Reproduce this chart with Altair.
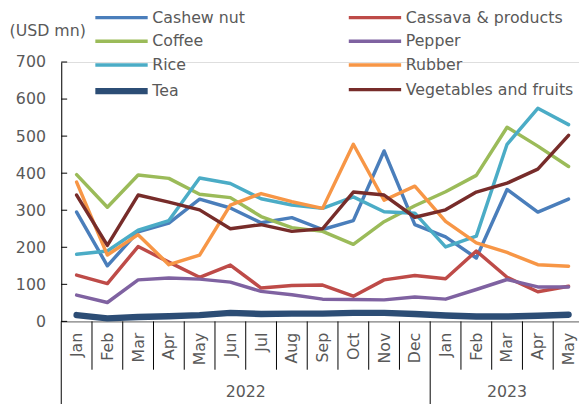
import json
import altair as alt
import pandas as pd

months = ["Jan", "Feb", "Mar", "Apr", "May", "Jun", "Jul", "Aug", "Sep", "Oct", "Nov", "Dec",
          "Jan", "Feb", "Mar", "Apr", "May"]
years = ["2022", "2023"]
year_centers = [5.5, 14.0]

products = ["Cashew nut", "Cassava & products", "Coffee", "Pepper", "Rice", "Rubber", "Tea",
            "Vegetables and fruits"]
colors = ["#4a7ebb", "#be4b48", "#9bbb59", "#7f62a1", "#4bacc6", "#f79646", "#2c4d75", "#772c2a"]
widths = [3.5, 3.5, 3.5, 3.5, 3.5, 3.5, 6.5, 3.5]

cashew = [295, 150, 242, 265, 330, 306, 266, 280, 248, 272, 460, 261, 228, 171, 356, 295, 330]
cassava = [125, 102, 202, 160, 119, 152, 90, 97, 98, 68, 112, 124, 115, 190, 119, 80, 95]
coffee = [396, 308, 395, 386, 343, 334, 283, 253, 243, 208, 269, 312, 350, 394, 524, 473, 418]
pepper = [71, 51, 112, 117, 114, 106, 81, 72, 60, 59, 58, 66, 60, 86, 113, 93, 93]
rice = [181, 190, 246, 272, 387, 372, 331, 314, 305, 336, 296, 292, 201, 230, 478, 575, 531]
rubber = [376, 179, 234, 153, 179, 314, 345, 323, 305, 478, 327, 365, 270, 212, 186, 153, 149]
tea = [17, 8, 12, 14, 17, 23, 20, 21, 21, 23, 23, 20, 16, 13, 13, 15, 18]
veg = [341, 205, 341, 322, 301, 250, 261, 243, 250, 349, 341, 281, 301, 349, 373, 411, 502]
series = [cashew, cassava, coffee, pepper, rice, rubber, tea, veg]

y_ticks = [0, 100, 200, 300, 400, 500, 600, 700]

rows = []
for p, vals in zip(products, series):
    for i, v in enumerate(vals):
        rows.append({"product": p, "idx": i, "value": v})
df = pd.DataFrame(rows)

W = 525
H = 263
FONT = "DejaVu Sans"
GRAY = "#595959"

xscale = alt.Scale(domain=[-0.5, 16.5], range=[0, 530], nice=False, zero=False)
yscale = alt.Scale(domain=[0, 700], nice=False, zero=True)

X = alt.X("idx:Q", scale=xscale,
          axis=alt.Axis(values=list(range(len(months))), tickCount=len(months),
                        labelExpr=json.dumps(months) + "[datum.value]",
                        ticks=False, labelAngle=-90, labelAlign="right", labelBaseline="middle",
                        labelPadding=11, labelFlush=False, labelOverlap=False, labelBound=False,
                        domainColor="#868686", domainWidth=1.2, grid=False, title=None,
                        labelFontSize=16, labelColor=GRAY, labelFont=FONT))
Y = alt.Y("value:Q", scale=yscale,
          axis=alt.Axis(values=y_ticks, tickCount=len(y_ticks), title="(USD mn)", titleAngle=0,
                        titleAlign="left", titleBaseline="middle", titleX=-53, titleY=-32,
                        ticks=False, labelOverlap=False, labelBound=False, labelFlush=False,
                        labelPadding=16, domainColor="#000000", grid=False,
                        labelFontSize=16, labelColor=GRAY, labelFont=FONT,
                        titleFontSize=16, titleFontWeight="normal", titleColor=GRAY,
                        titleFont=FONT))

legend = alt.Legend(orient="none", legendX=48.6, legendY=-56, columns=2, direction="horizontal",
                    symbolType="M-3,0H3", symbolSize=313, labelFontSize=16, labelFont=FONT,
                    labelColor=GRAY, columnPadding=97, rowPadding=5, labelOffset=18.7,
                    title=None, padding=0, labelLimit=300)

lines = alt.Chart(df).mark_line(strokeCap="round", strokeJoin="round").encode(
    x=X, y=Y,
    color=alt.Color("product:N", scale=alt.Scale(domain=products, range=colors), legend=legend),
    strokeWidth=alt.StrokeWidth("product:N",
                                scale=alt.Scale(type="ordinal", domain=products, range=widths),
                                legend=legend),
)

# inward y ticks
ytick_df = pd.DataFrame({"value": y_ticks})
yticks = alt.Chart(ytick_df).mark_rule(color="#000000", strokeWidth=1).encode(
    y=alt.Y("value:Q"), x=alt.value(0), x2=alt.value(6))

# month separators
sep_df = pd.DataFrame({"idx": [i - 0.5 for i in range(1, len(months)) if i != 12]})
seps = alt.Chart(sep_df).mark_rule(color="#000000", strokeWidth=1).encode(
    x=alt.X("idx:Q"), y=alt.value(H), y2=alt.value(H + 49))

# year separators
ysep_df = pd.DataFrame({"idx": [-0.5, 11.5]})
yseps = alt.Chart(ysep_df).mark_rule(color="#000000", strokeWidth=1).encode(
    x=alt.X("idx:Q"), y=alt.value(H), y2=alt.value(H + 100))

year_df = pd.DataFrame({"idx": year_centers, "year": years})
year_text = alt.Chart(year_df).mark_text(font=FONT, fontSize=16, color=GRAY,
                                         baseline="middle", align="center").encode(
    x=alt.X("idx:Q"), y=alt.value(H + 72), text="year:N")

chart = alt.layer(lines, yticks, seps, yseps, year_text).properties(
    width=W, height=H,
    autosize=alt.AutoSizeParams(type="none"),
    padding={"left": 54, "top": 52, "right": 0, "bottom": 81},
).configure_view(stroke=None).configure(background="white")

chart.save("out.html", embed_options={"renderer": "svg", "actions": False})
